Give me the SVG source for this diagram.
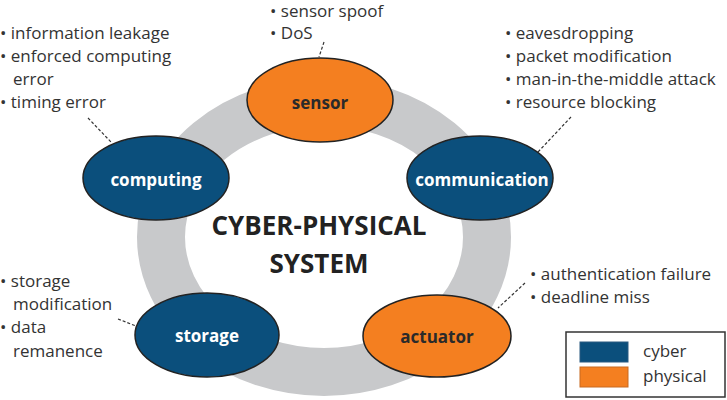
<svg xmlns="http://www.w3.org/2000/svg" width="727" height="400" viewBox="0 0 727 400">
<style>
.node{stroke:#222;stroke-width:1.5}
.cyber{fill:#0b4f7c}
.phys{fill:#f47f20}
.lbl{font-family:"Open Sans","Liberation Sans",sans-serif;font-weight:bold;font-size:17px;text-anchor:middle}
.w{fill:#ffffff}
.d{fill:#2a2a2a}
.b{font-family:"Open Sans","Liberation Sans",sans-serif;font-size:17px;fill:#333}
.title{font-family:"Open Sans","Liberation Sans",sans-serif;font-weight:bold;font-size:26px;fill:#222;text-anchor:middle}
.dash{stroke:#333;stroke-width:1.2;stroke-dasharray:3 2;fill:none}
</style>
<rect width="727" height="400" fill="#ffffff"/>
<ellipse id="ring" cx="324" cy="237" rx="163" ry="135" fill="none" stroke="#c8c9cb" stroke-width="48"/>
<g id="connectors">
<line class="dash" x1="88" y1="118" x2="111" y2="142"/>
<line class="dash" x1="324" y1="42" x2="319" y2="57"/>
<line class="dash" x1="571" y1="117" x2="538" y2="152"/>
<line class="dash" x1="118" y1="319" x2="136" y2="326"/>
<line class="dash" x1="525" y1="283" x2="498" y2="308"/>
</g>
<g id="sensor">
<ellipse class="node phys" cx="320" cy="100" rx="73" ry="42"/>
<text class="lbl d" x="320" y="109">sensor</text>
</g>
<g id="computing">
<ellipse class="node cyber" cx="156" cy="178" rx="73" ry="42"/>
<text class="lbl w" x="156" y="186">computing</text>
</g>
<g id="communication">
<ellipse class="node cyber" cx="480" cy="178" rx="73" ry="42"/>
<text class="lbl w" x="482" y="186">communication</text>
</g>
<g id="storage">
<ellipse class="node cyber" cx="207" cy="335" rx="72" ry="42"/>
<text class="lbl w" x="207" y="342">storage</text>
</g>
<g id="actuator">
<ellipse class="node phys" cx="437" cy="336" rx="74" ry="41"/>
<text class="lbl d" x="437" y="343">actuator</text>
</g>
<g id="title">
<text class="title" x="319" y="235">CYBER-PHYSICAL</text>
<text class="title" x="319" y="273">SYSTEM</text>
</g>
<g id="computing-threats" class="b">
<text x="0" y="39">• information leakage</text>
<text x="0" y="62">• enforced computing</text>
<text x="13" y="85">error</text>
<text x="0" y="108">• timing error</text>
</g>
<g id="sensor-threats" class="b">
<text x="270" y="17">• sensor spoof</text>
<text x="270" y="39">• DoS</text>
</g>
<g id="communication-threats" class="b">
<text x="505" y="39">• eavesdropping</text>
<text x="505" y="62">• packet modification</text>
<text x="505" y="85">• man-in-the-middle attack</text>
<text x="505" y="108">• resource blocking</text>
</g>
<g id="storage-threats" class="b">
<text x="0" y="287">• storage</text>
<text x="13" y="310">modification</text>
<text x="0" y="333">• data</text>
<text x="13" y="357">remanence</text>
</g>
<g id="actuator-threats" class="b">
<text x="530" y="280">• authentication failure</text>
<text x="530" y="303">• deadline miss</text>
</g>
<g id="legend">
<rect x="566" y="332" width="159" height="65" fill="#ffffff" stroke="#333" stroke-width="1.5"/>
<rect x="580" y="342" width="48" height="20" class="cyber" stroke="#2a5a80" stroke-width="1"/>
<rect x="580" y="367" width="48" height="20" class="phys" stroke="#c86a20" stroke-width="1"/>
<text class="b" x="643" y="357">cyber</text>
<text class="b" x="643" y="382">physical</text>
</g>
</svg>
